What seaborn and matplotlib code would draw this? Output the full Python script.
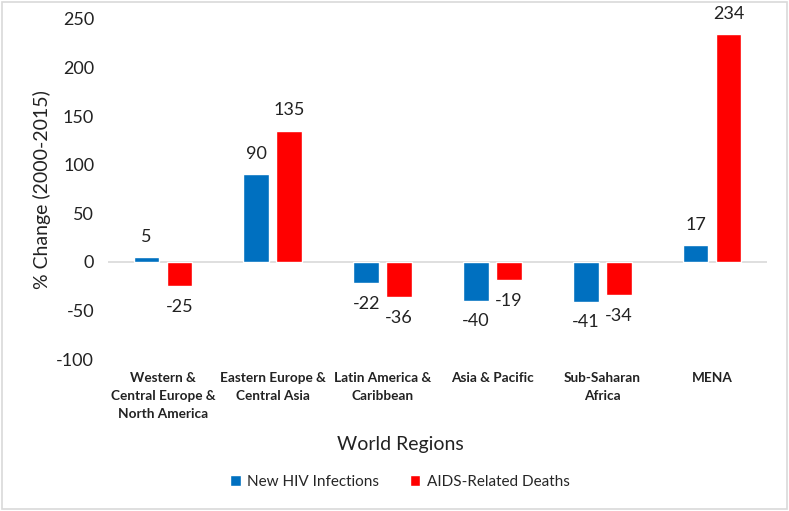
import pandas as pd
import matplotlib.pyplot as plt
import seaborn as sns
from matplotlib.patches import Rectangle

# data
regions = ["Western &\nCentral Europe &\nNorth America", "Eastern Europe &\nCentral Asia",
           "Latin America &\nCaribbean", "Asia & Pacific", "Sub-Saharan\nAfrica", "MENA"]
new_infections = [5, 90, -22, -40, -41, 17]
aids_deaths = [-25, 135, -36, -19, -34, 234]
series = ["New HIV Infections", "AIDS-Related Deaths"]

df = pd.DataFrame({
    "region": regions * 2,
    "series": [series[0]] * 6 + [series[1]] * 6,
    "value": new_infections + aids_deaths,
})

sns.set_style("white")
plt.rcParams["font.family"] = ["Lato", "DejaVu Sans"]
plt.rcParams["axes.unicode_minus"] = False

fig = plt.figure(figsize=(7.89, 5.11), dpi=100)
ax = fig.add_axes([0.137, 0.297, 0.835, 0.666])

sns.barplot(data=df, x="region", y="value", hue="series", order=regions, hue_order=series,
            palette={series[0]: "#0070C0", series[1]: "#FF0000"},
            width=0.6, gap=0.22, saturation=1, ax=ax)

for c in ax.containers:
    ax.bar_label(c, fmt="%d", padding=9, fontsize=13, color="#222222")

ax.set_ylim(-100, 250)
ax.set_yticks(range(-100, 251, 50))
ax.set_xlim(-0.5, 5.5)
ax.axhline(0, color="#d9d9d9", lw=1.2, zorder=0)
for s in ax.spines.values():
    s.set_visible(False)
ax.tick_params(axis="y", labelsize=13, length=0, pad=10, labelcolor="#222222")
ax.tick_params(axis="x", length=0, pad=9)
ax.set_xticks(range(len(regions)))
ax.set_xticklabels(regions, fontweight="bold", fontsize=9.8, linespacing=1.6,
                   va="top", color="#222222")
ax.set_ylabel("% Change (2000-2015)", fontsize=14, color="#222222")
ax.yaxis.set_label_coords(-0.087, 0.5)
ax.set_xlabel("World Regions", fontsize=14, color="#222222")
ax.xaxis.set_label_coords(0.443, -0.225)

ax.legend(loc="center", bbox_to_anchor=(0.443, -0.36), ncol=2, frameon=False,
          fontsize=11, handlelength=0.7, handleheight=0.7, columnspacing=2.0,
          handletextpad=0.4)

fig.patches.append(Rectangle((0.002, 0.004), 0.996, 0.992, transform=fig.transFigure,
                             fill=False, edgecolor="#d9d9d9", lw=1.2))

plt.savefig("out.png", dpi=100)
plt.close()
